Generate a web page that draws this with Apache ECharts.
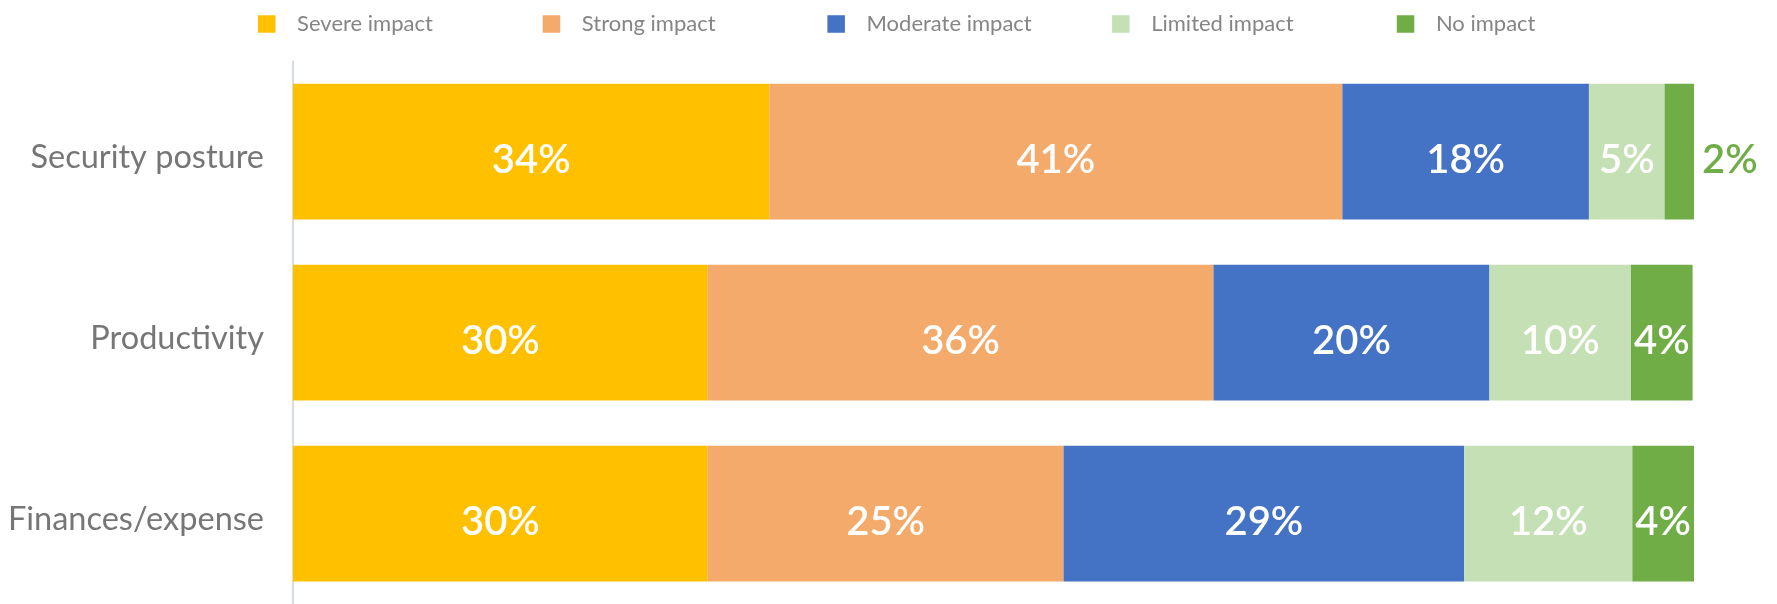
<!DOCTYPE html>
<html>
<head>
<meta charset="utf-8">
<script src="https://cdn.jsdelivr.net/npm/echarts@6/dist/echarts.min.js"></script>
<style>
  html, body { margin: 0; padding: 0; background: #ffffff; }
  #chart { width: 1777px; height: 604px; }
</style>
</head>
<body>
<div id="chart"></div>
<script>
const categories = ['Security posture', 'Productivity', 'Finances/expense'];
const seriesNames = ['Severe impact', 'Strong impact', 'Moderate impact', 'Limited impact', 'No impact'];
const severe   = [34.0, 29.6, 29.6];
const strong   = [40.9, 36.1, 25.4];
const moderate = [17.6, 19.7, 28.6];
const limited  = [5.4, 10.1, 12.0];
const noImpact = [2.1, 4.4, 4.4];
const colors = ['#FFC000', '#F4AA6A', '#4472C4', '#C5E0B4', '#70AD47'];

const allValues = [severe, strong, moderate, limited, noImpact];
const FONT = 'Lato';

const series = allValues.map((vals, si) => ({
  name: seriesNames[si],
  type: 'bar',
  stack: 'total',
  barWidth: '75%',
  itemStyle: { color: colors[si] },
  label: {
    show: true,
    position: 'inside',
    color: '#ffffff',
    fontFamily: FONT,
    fontSize: 40,
    fontWeight: 600,
    offset: [0, 9],
    formatter: p => Math.round(p.value) + '%'
  },
  data: vals.map(v => (v < 3 ? {
    value: v,
    label: { position: 'right', distance: 8, color: colors[si] }
  } : v))
}));

const legends = seriesNames.map((name, i) => ({
  left: 258 + i * 284.7,
  top: 13,
  padding: 0,
  itemWidth: 17.5,
  itemHeight: 17.5,
  icon: 'rect',
  data: [name],
  textStyle: {
    fontFamily: FONT,
    fontSize: 22,
    color: '#858585',
    padding: [0, 0, 0, 16.6]
  }
}));

const chart = echarts.init(document.getElementById('chart'), null, { renderer: 'canvas' });
chart.setOption({
  animation: false,
  backgroundColor: '#ffffff',
  legend: legends,
  grid: { left: 293, right: 83, top: 61, bottom: 0, outerBoundsMode: 'none', containLabel: false },
  xAxis: { type: 'value', min: 0, max: 100, show: false },
  yAxis: {
    type: 'category',
    inverse: true,
    data: categories,
    axisLine: { show: true, lineStyle: { color: '#C9D1DA', width: 1.5 } },
    axisTick: { show: false },
    axisLabel: {
      margin: 29,
      formatter: v => '{c|' + v + '}',
      rich: {
        c: {
          color: '#767676',
          fontFamily: FONT,
          fontSize: 32.5,
          padding: [12, 0, 0, 0]
        }
      }
    }
  },
  series: series
});
</script>
</body>
</html>
